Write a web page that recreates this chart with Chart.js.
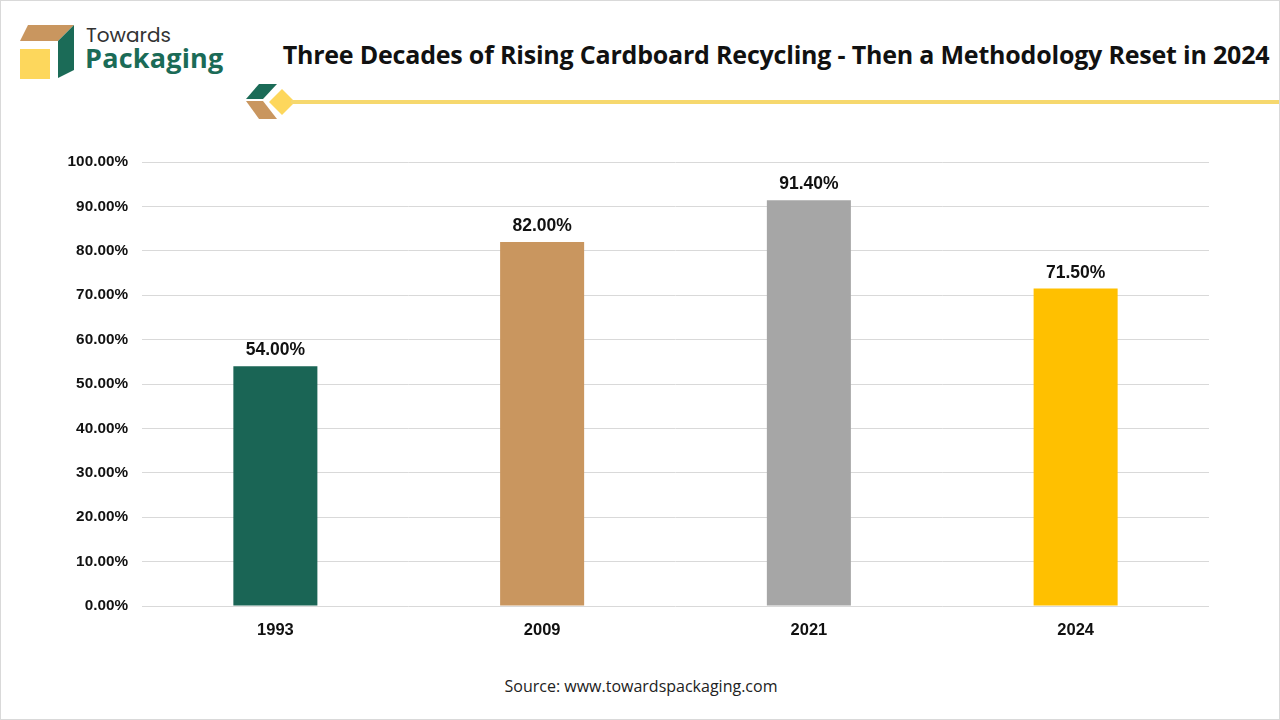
<!DOCTYPE html>
<html>
<head>
<meta charset="utf-8">
<script src="https://cdn.jsdelivr.net/npm/chart.js@4.4.1/dist/chart.umd.min.js"></script>
<style>
  html, body { margin: 0; padding: 0; background: #fff; }
  #page { position: relative; width: 1278px; height: 718px; border: 1px solid #d9d9d9; overflow: hidden; font-family: "Liberation Sans", Arial, sans-serif; }
  #logo { position: absolute; left: 0; top: 0; }
  #brand1 { position: absolute; left: 85px; top: 19px; font-family: "Poppins", "Open Sans", sans-serif; font-size: 20px; color: #333; }
  #brand2 { position: absolute; left: 84px; top: 38px; font-family: "Open Sans", sans-serif; font-weight: 700; font-size: 27px; color: #1b6b57; letter-spacing: 0.2px; }
  #title { position: absolute; left: 270px; top: 36px; width: 1010px; text-align: center; font-family: "Open Sans", "Noto Sans", sans-serif; font-weight: 700; font-size: 25px; color: #111; letter-spacing: -0.2px; }
  #deco { position: absolute; left: 0; top: 0; }
  #chartBox { position: absolute; left: 0; top: 130px; width: 1280px; height: 520px; }
  #source { position: absolute; left: 0; top: 674px; width: 1280px; text-align: center; font-family: "Open Sans", "Noto Sans", sans-serif; font-size: 16px; color: #222; }
</style>
</head>
<body>
<div id="page">
  <svg id="logo" width="240" height="90">
    <polygon points="27,24 73,24 57,40 19,40" fill="#c9965f"/>
    <polygon points="57,40 73,24 73,69 57,77" fill="#1b6b57"/>
    <rect x="19" y="48" width="30" height="30" fill="#fdd75c"/>
  </svg>
  <div id="brand1">Towards</div>
  <div id="brand2">Packaging</div>
  <div id="title">Three Decades of Rising Cardboard Recycling - Then a Methodology Reset in 2024</div>
  <svg id="deco" width="1280" height="130">
    <polygon points="258,83 276,83 262,98 245,98" fill="#1b6b57"/>
    <polygon points="245,100 262,100 276,118 258,118" fill="#c9965f"/>
    <polygon points="281,88 294,101 281,114 268,101" fill="#fdd75c"/>
    <rect x="290" y="99" width="990" height="4" fill="#f6d86e"/>
  </svg>
  <div id="chartBox"><canvas id="chart"></canvas></div>
  <div id="source">Source: www.towardspackaging.com</div>
</div>
<script>
const years = ["1993", "2009", "2021", "2024"];
const recyclingRate = [54.0, 82.0, 91.4, 71.5];
const barColors = ["#1a6555", "#c9965f", "#a6a6a6", "#ffc000"];

const valueLabels = {
  id: "valueLabels",
  afterDatasetsDraw(chart) {
    const ctx = chart.ctx;
    const meta = chart.getDatasetMeta(0);
    ctx.save();
    ctx.font = "bold 17.5px 'Liberation Sans', Arial, sans-serif";
    ctx.fillStyle = "#111";
    ctx.textAlign = "center";
    ctx.textBaseline = "bottom";
    meta.data.forEach(function (bar, i) {
      ctx.fillText(recyclingRate[i].toFixed(2) + "%", bar.x, bar.y - 7);
    });
    ctx.restore();
  }
};

new Chart(document.getElementById("chart"), {
  type: "bar",
  data: {
    labels: years,
    datasets: [{
      data: recyclingRate,
      backgroundColor: barColors,
      categoryPercentage: 1,
      barPercentage: 0.315
    }]
  },
  options: {
    responsive: true,
    maintainAspectRatio: false,
    animation: false,
    layout: { padding: { left: 0, top: 31, right: 72, bottom: 0 } },
    plugins: { legend: { display: false }, tooltip: { enabled: false } },
    scales: {
      x: {
        grid: { display: false },
        border: { display: false },
        ticks: { color: "#111", font: { family: "'Liberation Sans', Arial, sans-serif", size: 16.5, weight: "bold" }, padding: 7 },
        afterFit(scale) { scale.height = 45; }
      },
      y: {
        min: 0,
        max: 100,
        ticks: {
          stepSize: 10,
          color: "#111",
          padding: 14,
          font: { family: "'Liberation Sans', Arial, sans-serif", size: 15.3, weight: "bold" },
          callback: function (v) { return v.toFixed(2) + "%"; }
        },
        grid: { color: "#d9d9d9", drawTicks: false },
        border: { display: false },
        afterFit(scale) { scale.width = 141; }
      }
    }
  },
  plugins: [valueLabels]
});
</script>
</body>
</html>
